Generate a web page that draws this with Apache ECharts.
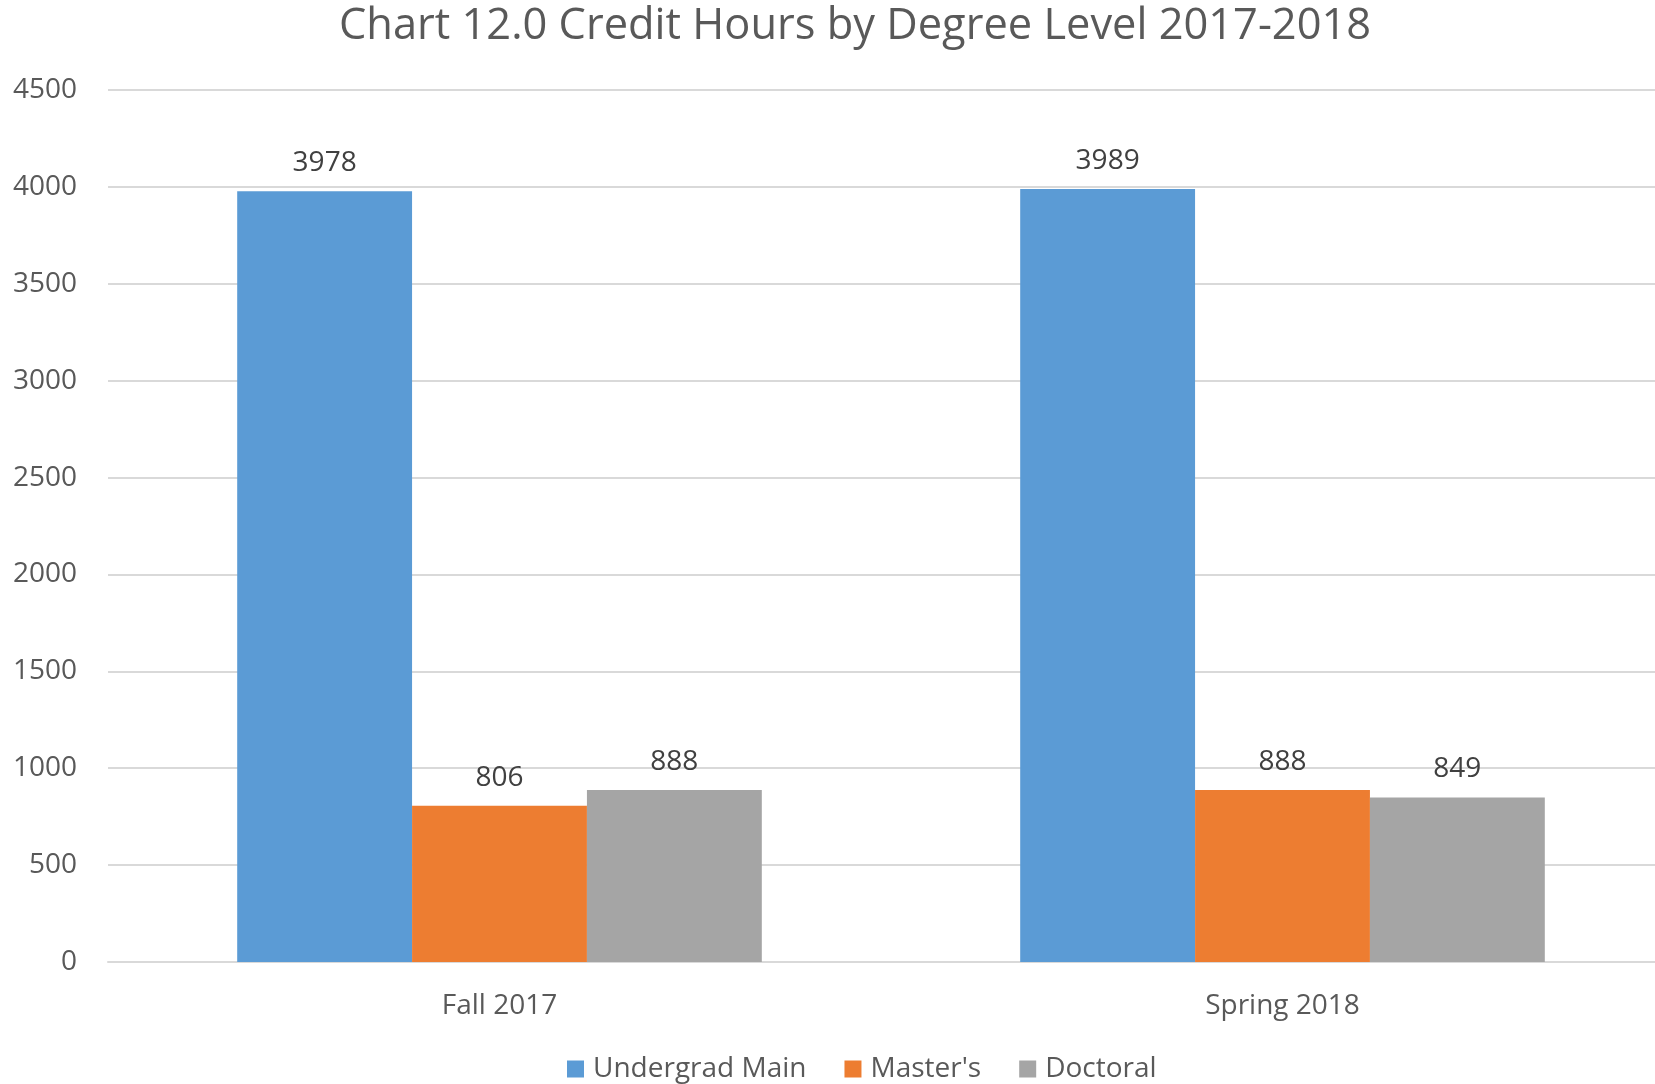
<!DOCTYPE html>
<html>
<head>
<meta charset="utf-8">
<script src="https://cdn.jsdelivr.net/npm/echarts@6/dist/echarts.min.js"></script>
<style>
  html, body { margin: 0; padding: 0; background: #fff; }
  #chart { width: 1655px; height: 1084px; }
</style>
</head>
<body>
<div id="chart"></div>
<script>
// data
const terms = ['Fall 2017', 'Spring 2018']
const undergradMain = [3978, 3989]
const masters = [806, 888]
const doctoral = [888, 849]
const yTicks = [0, 500, 1000, 1500, 2000, 2500, 3000, 3500, 4000, 4500]

const colors = {
  blue: '#5B9BD5',
  orange: '#ED7D31',
  gray: '#A5A5A5'
}

const fontFamily = '"Open Sans", "Noto Sans", sans-serif'

const chart = echarts.init(document.getElementById('chart'))

const makeSeries = (name, data, color) => ({
  name,
  type: 'bar',
  data,
  barGap: '0%',
  barCategoryGap: '33%',
  itemStyle: { color },
  label: {
    show: true,
    position: 'top',
    distance: 14,
    color: '#404040',
    fontFamily,
    fontSize: 28
  }
})

const option = {
  backgroundColor: '#fff',
  animation: false,
  title: {
    text: 'Chart 12.0 Credit Hours by Degree Level 2017-2018',
    left: 334,
    top: 0,
    textStyle: {
      color: '#595959',
      fontFamily,
      fontWeight: 'normal',
      fontSize: 43.4
    }
  },
  legend: {
    top: 1050,
    left: 562,
    itemWidth: 17,
    itemHeight: 17,
    itemGap: 38,
    icon: 'rect',
    textStyle: { color: '#595959', fontFamily, fontSize: 28, padding: [0, 0, 0, 4] },
    data: ['Undergrad Main', "Master's", 'Doctoral']
  },
  grid: { left: 108, top: 90, right: -19, height: 872, outerBoundsMode: 'none' },
  xAxis: {
    type: 'category',
    data: terms,
    axisTick: { show: false },
    axisLine: { lineStyle: { color: '#D9D9D9', width: 2 } },
    axisLabel: { color: '#595959', fontFamily, fontSize: 28, margin: 30 }
  },
  yAxis: {
    type: 'value',
    min: yTicks[0],
    max: yTicks[yTicks.length - 1],
    interval: 500,
    axisLine: { show: false },
    axisTick: { show: false },
    axisLabel: {
      color: '#595959',
      fontFamily,
      fontSize: 28,
      margin: 31,
      padding: [4, 0, 0, 0],
      formatter: (v) => String(v)
    },
    splitLine: { lineStyle: { color: '#D9D9D9', width: 2 } }
  },
  series: [
    makeSeries('Undergrad Main', undergradMain, colors.blue),
    makeSeries("Master's", masters, colors.orange),
    makeSeries('Doctoral', doctoral, colors.gray)
  ]
}

chart.setOption(option)
</script>
</body>
</html>
